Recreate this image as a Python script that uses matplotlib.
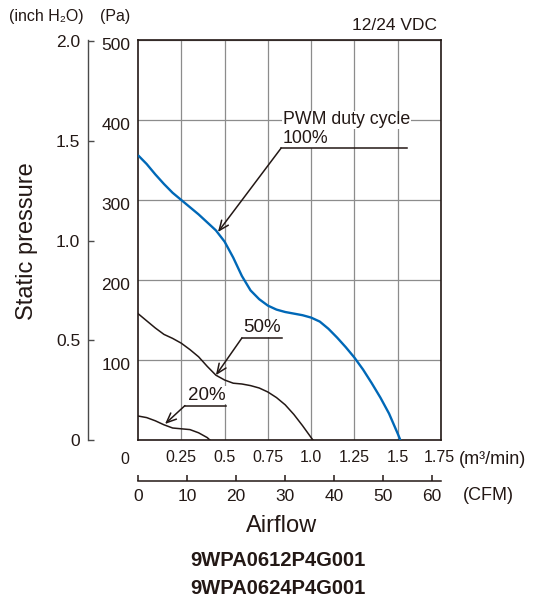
import matplotlib
matplotlib.use("Agg")
import matplotlib.pyplot as plt
import matplotlib.transforms as mtransforms
from matplotlib import font_manager

# ---------------- data ----------------
flow_100 = [0, 0.05, 0.1, 0.15, 0.2, 0.25, 0.3, 0.35, 0.4, 0.45, 0.5, 0.55, 0.6, 0.65,
            0.7, 0.75, 0.8, 0.85, 0.9, 0.95, 1.0, 1.05, 1.1, 1.15, 1.2, 1.25, 1.3, 1.35,
            1.4, 1.45, 1.5, 1.515]
pa_100 = [356, 345, 332, 320, 309, 300, 291, 282, 272, 262, 248, 228, 205, 187,
          176, 168, 163, 160, 158, 156, 153, 148, 139, 128, 116, 103, 88, 71,
          53, 33, 8, 0]

flow_50 = [0, 0.05, 0.1, 0.15, 0.2, 0.25, 0.3, 0.35, 0.4, 0.45, 0.5, 0.55, 0.6, 0.65,
           0.7, 0.75, 0.8, 0.85, 0.9, 0.95, 1.0, 1.01]
pa_50 = [158, 149, 140, 132, 127, 121, 113, 104, 92, 81, 75, 71, 70, 68,
         65, 60, 53, 44, 32, 18, 3, 0]

flow_20 = [0, 0.05, 0.1, 0.15, 0.2, 0.25, 0.3, 0.35, 0.4, 0.415]
pa_20 = [30, 28, 24, 19, 15, 14, 13, 9, 3, 0]

pa_ticks = [100, 200, 300, 400, 500]
inch_ticks = [0, 0.5, 1.0, 1.5, 2.0]
inch_labels = ["0", "0.5", "1.0", "1.5", "2.0"]
m3_ticks = [0.25, 0.5, 0.75, 1.0, 1.25, 1.5, 1.75]
m3_labels = ["0.25", "0.5", "0.75", "1.0", "1.25", "1.5", "1.75"]
cfm_ticks = [0, 10, 20, 30, 40, 50, 60]
duty_labels = ["PWM duty cycle\n100%", "50%", "20%"]
models = ["9WPA0612P4G001", "9WPA0624P4G001"]
voltage = "12/24 VDC"

PA_PER_INCH = 249.089
CFM_PER_M3 = 35.3147

# ---------------- style ----------------
INK = "#231815"
BLUE = "#0068b7"
GRID = "#8c8c8c"

names = {f.name for f in font_manager.fontManager.ttflist}
NARROW = "Liberation Sans Narrow" if "Liberation Sans Narrow" in names else "Liberation Sans"
TICK_FS = 13 if NARROW == "Liberation Sans Narrow" else 12.5
XTICK_FS = 13 if NARROW == "Liberation Sans Narrow" else 11.5
SANS = ["Liberation Sans", "DejaVu Sans"]
plt.rcParams["font.family"] = SANS
plt.rcParams["text.color"] = INK

W, H = 542, 604
fig = plt.figure(figsize=(W / 100, H / 100), dpi=100)


def fx(px):
    return px / W


def fy(py):
    return 1 - py / H


X0, X1, Y0, Y1 = 138, 441, 440, 40

# main plot
ax = fig.add_axes([fx(X0), fy(Y0), fx(X1) - fx(X0), fy(Y1) - fy(Y0)])
ax.set_xlim(0, 1.75)
ax.set_ylim(0, 500)
ax.set_xticks(m3_ticks)
ax.set_xticklabels(m3_labels)
ax.set_yticks(pa_ticks)
ax.set_yticklabels([str(v) for v in pa_ticks])
ax.grid(True, color=GRID, lw=0.9)
ax.set_axisbelow(True)
for s in ax.spines.values():
    s.set_color(INK)
    s.set_linewidth(1.2)
ax.tick_params(axis="x", length=0, pad=7, labelsize=XTICK_FS, labelcolor=INK)
ax.tick_params(axis="y", length=0, pad=5.5, labelsize=TICK_FS, labelcolor=INK)
for lab in ax.get_xticklabels() + ax.get_yticklabels():
    lab.set_fontfamily(NARROW)
off = mtransforms.ScaledTranslation(0, -4 / 100, fig.dpi_scale_trans)
for lab in ax.get_yticklabels():
    lab.set_transform(lab.get_transform() + off)
offx = mtransforms.ScaledTranslation(-2 / 100, 0, fig.dpi_scale_trans)
lab_last = ax.get_xticklabels()[-1]
lab_last.set_transform(lab_last.get_transform() + offx)

ax.plot(flow_100, pa_100, color=BLUE, lw=1.7, solid_capstyle="butt", zorder=3)
ax.plot(flow_50, pa_50, color=INK, lw=1.1, zorder=3)
ax.plot(flow_20, pa_20, color=INK, lw=1.1, zorder=3)

# annotations (text, leader line, arrow)
arrow_kw = dict(arrowstyle="->,head_length=0.7,head_width=0.3", color=INK, lw=1.1,
                shrinkA=0, shrinkB=0)
bbox_kw = dict(facecolor="white", edgecolor="none", pad=0.5)

# 100 %
ax.text(0.837, 400, "PWM duty cycle", fontsize=12.75, ha="left", va="center",
        bbox=bbox_kw, zorder=4)
ax.text(0.837, 377, "100%", fontsize=12.75, ha="left", va="center",
        bbox=bbox_kw, zorder=4)
ax.plot([0.827, 1.553], [365, 365], color=INK, lw=1.1, zorder=4)
ax.annotate("", xy=(0.462, 260), xytext=(0.827, 365), arrowprops=arrow_kw, zorder=4)

# 50 %
ax.text(0.61, 140, duty_labels[1], fontsize=13.5, ha="left", va="center",
        bbox=bbox_kw, zorder=4)
ax.plot([0.60, 0.831], [127.5, 127.5], color=INK, lw=1.1, zorder=4)
ax.annotate("", xy=(0.450, 81), xytext=(0.60, 127.5), arrowprops=arrow_kw, zorder=4)

# 20 %
ax.text(0.291, 56, duty_labels[2], fontsize=13.5, ha="left", va="center",
        bbox=bbox_kw, zorder=4)
ax.plot([0.271, 0.508], [43, 43], color=INK, lw=1.1, zorder=4)
ax.annotate("", xy=(0.156, 20), xytext=(0.271, 43), arrowprops=arrow_kw, zorder=4)

# inch H2O axis
ax_in = fig.add_axes([fx(88), fy(Y0), 0.0001, fy(Y1) - fy(Y0)])
ax_in.set_ylim(0, 500 / PA_PER_INCH)
ax_in.set_xticks([])
ax_in.set_yticks(inch_ticks)
ax_in.set_yticklabels(inch_labels)
ax_in.patch.set_visible(False)
for k in ("top", "right", "bottom"):
    ax_in.spines[k].set_visible(False)
ax_in.spines["left"].set_color("#4a4a4a")
ax_in.spines["left"].set_linewidth(1.0)
ax_in.tick_params(axis="y", direction="in", length=4, width=1.0, color="#4a4a4a",
                  pad=5.5, labelsize=TICK_FS, labelcolor=INK)
for lab in ax_in.get_yticklabels():
    lab.set_fontfamily(NARROW)

# CFM axis
ax_cfm = fig.add_axes([fx(X0), fy(481), fx(X1) - fx(X0), 0.0001])
ax_cfm.set_xlim(0, 1.75 * CFM_PER_M3)
ax_cfm.set_yticks([])
ax_cfm.set_xticks(cfm_ticks)
ax_cfm.set_xticklabels([str(v) for v in cfm_ticks])
ax_cfm.patch.set_visible(False)
for k in ("top", "right", "left"):
    ax_cfm.spines[k].set_visible(False)
ax_cfm.spines["bottom"].set_color(INK)
ax_cfm.spines["bottom"].set_linewidth(1.1)
ax_cfm.tick_params(axis="x", direction="in", length=4.3, width=1.1, color=INK,
                   pad=6, labelsize=TICK_FS, labelcolor=INK)
for lab in ax_cfm.get_xticklabels():
    lab.set_fontfamily(NARROW)

# free texts
fig.text(fx(125), fy(459), "0", fontsize=XTICK_FS, family=NARROW, ha="center", va="center")
fig.text(fx(9), fy(17), "(inch H\u2082O)", fontsize=11.5, family=SANS, ha="left", va="center")
fig.text(fx(100), fy(17), "(Pa)", fontsize=11.5, ha="left", va="center")
fig.text(fx(437), fy(25), voltage, fontsize=12.5, ha="right", va="center")
fig.text(fx(459), fy(459), "(m\u00b3/min)", fontsize=13, ha="left", va="center")
fig.text(fx(463), fy(495), "(CFM)", fontsize=13, ha="left", va="center")
fig.text(fx(27), fy(241), "Static pressure", fontsize=17, rotation=90,
         ha="center", va="center")
fig.text(fx(281.5), fy(526.5), "Airflow", fontsize=17, ha="center", va="center")
fig.text(fx(278), fy(560), models[0], fontsize=14.5, fontweight="bold",
         ha="center", va="center")
fig.text(fx(278), fy(589), models[1], fontsize=14.5, fontweight="bold",
         ha="center", va="center")

fig.savefig("out.png", dpi=100)
